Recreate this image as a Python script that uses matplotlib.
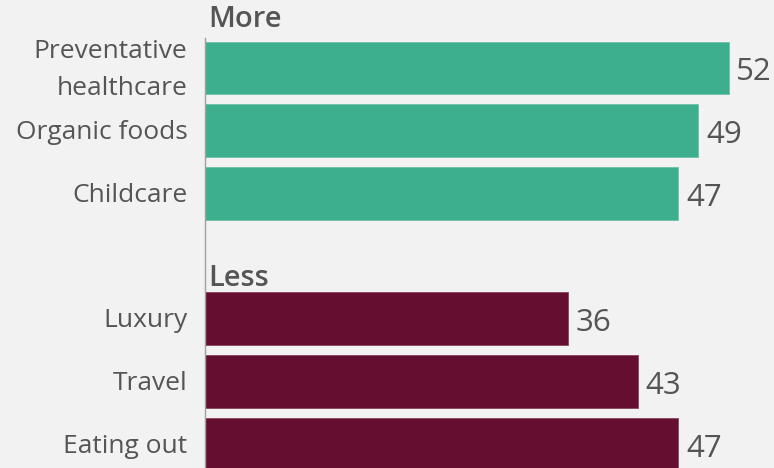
import matplotlib.pyplot as plt

plt.rcParams['font.family'] = ['Open Sans', 'DejaVu Sans']

more_labels = ["Preventative\nhealthcare", "Organic foods", "Childcare"]
more_values = [52, 49, 47]
less_labels = ["Luxury", "Travel", "Eating out"]
less_values = [36, 43, 47]

teal = "#3daf8f"
maroon = "#650f30"
bg = "#f2f2f2"
text_grey = "#555555"

fig = plt.figure(figsize=(7.74, 4.68), dpi=100, facecolor=bg)
ax = fig.add_axes([205 / 774, 0, 1 - 205 / 774, 1])
ax.set_facecolor(bg)

more_pos = [0, 1, 2]
less_pos = [4, 5, 6]

ax.barh(more_pos, more_values, height=0.84, color=teal, edgecolor="#6cc2a8", linewidth=0.6)
ax.barh(less_pos, less_values, height=0.84, color=maroon, edgecolor="#8a4560", linewidth=0.6)

ax.set_xlim(0, 56.5)
ax.set_ylim(6.38, -1.085)

for pos, val in zip(more_pos + less_pos, more_values + less_values):
    ax.text(val + 0.75, pos + 0.07, str(val), va="center", ha="left",
            fontsize=22.5, color=text_grey)

for pos, lab in zip(more_pos + less_pos, more_labels + less_labels):
    ax.text(-1.75, pos + 0.03, lab, va="center", ha="right", fontsize=19,
            color=text_grey, linespacing=1.6, clip_on=False)

ax.text(0.3, -0.77, "More", va="center", ha="left", fontsize=21,
        color=text_grey, fontweight="semibold")
ax.text(0.3, 3.35, "Less", va="center", ha="left", fontsize=21,
        color=text_grey, fontweight="semibold")

# thin axis line on the left of the bars
ax.plot([0, 0], [-0.48, 6.38], color="#a0a0a0", linewidth=1, clip_on=False)

for s in ax.spines.values():
    s.set_visible(False)
ax.set_xticks([])
ax.set_yticks([])

fig.savefig("out.png", dpi=100, facecolor=bg)
